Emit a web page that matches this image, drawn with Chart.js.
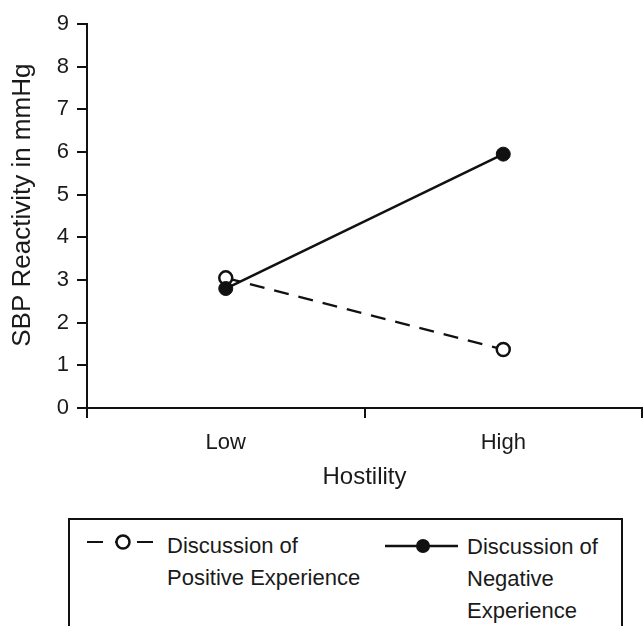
<!DOCTYPE html>
<html>
<head>
<meta charset="utf-8">
<script src="https://cdn.jsdelivr.net/npm/chart.js@4.4.1/dist/chart.umd.min.js"></script>
<style>
  html, body { margin:0; padding:0; background:#fff; }
  body { width:643px; height:626px; overflow:hidden; position:relative; font-family:'Liberation Sans', Arial, sans-serif; color:#1a1a1a; }
  #chart { position:absolute; left:0; top:0; }
  .legend-box { position:absolute; left:68px; top:518px; width:551px; height:140px; border:2px solid #111; box-sizing:content-box; }
  .legend-item { position:absolute; font-size:22px; line-height:32px; }
  .legend-item svg { position:absolute; overflow:visible; }
</style>
</head>
<body>
<canvas id="chart" width="651" height="510"></canvas>
<div class="legend-box" id="legend"></div>

<script>
// ---- data ----
const hostilityLevels = ['Low', 'High'];
const positiveValues = [3.05, 1.37];   // open circles, dashed
const negativeValues = [2.8, 5.95];    // filled circles, solid
const yMin = 0, yMax = 9, yStep = 1;

const positiveName = ['Discussion of', 'Positive Experience'];
const negativeName = ['Discussion of', 'Negative', 'Experience'];

const ink = '#111';
const fontFam = "'Liberation Sans', Arial, sans-serif";

new Chart(document.getElementById('chart'), {
  type: 'line',
  data: {
    labels: hostilityLevels,
    datasets: [
      {
        label: positiveName.join(' '),
        data: positiveValues,
        borderColor: ink, borderWidth: 2.2, borderDash: [15, 10],
        pointRadius: 6.5, pointBorderWidth: 2.5,
        pointBackgroundColor: '#fff', pointBorderColor: ink,
        order: 1
      },
      {
        label: negativeName.join(' '),
        data: negativeValues,
        borderColor: ink, borderWidth: 2.5,
        pointRadius: 7, pointBorderWidth: 1,
        pointBackgroundColor: ink, pointBorderColor: ink,
        order: 0
      }
    ]
  },
  options: {
    responsive: false,
    animation: false,
    devicePixelRatio: 1,
    layout: { padding: { top: 24, right: 0, left: 0, bottom: 0 } },
    plugins: { legend: { display: false }, tooltip: { enabled: false } },
    scales: {
      x: {
        offset: true,
        grid: { drawOnChartArea: false, drawTicks: true, tickLength: 10, color: ink, lineWidth: 2, offset: true },
        border: { display: true, color: ink, width: 2 },
        ticks: { color: '#1a1a1a', font: { family: fontFam, size: 22 }, padding: 12 },
        title: { display: true, text: 'Hostility', color: '#1a1a1a', font: { family: fontFam, size: 24 }, padding: { top: 0, bottom: 18 } },
        afterFit: s => { s.height = 102; }
      },
      y: {
        min: yMin, max: yMax,
        grid: { drawOnChartArea: false, drawTicks: true, tickLength: 10, color: ink, lineWidth: 2 },
        border: { display: true, color: ink, width: 2 },
        ticks: { stepSize: yStep, color: '#1a1a1a', font: { family: fontFam, size: 22 }, padding: 8 },
        // leading spaces nudge the rotated title up a little, as in the original
        title: { display: true, text: '   SBP Reactivity in mmHg', color: '#1a1a1a', font: { family: fontFam, size: 26 }, padding: { top: 7, bottom: 0 } },
        afterFit: s => { s.width = 87; }
      }
    }
  }
});

// ---- legend (coordinates relative to box inner edge at 70,520) ----
const legend = document.getElementById('legend');
function addItem(lines, left, top, svg) {
  const d = document.createElement('div');
  d.className = 'legend-item';
  d.style.left = left + 'px';
  d.style.top = top + 'px';
  d.innerHTML = lines.join('<br>');
  legend.appendChild(d);
  const s = document.createElementNS('http://www.w3.org/2000/svg', 'svg');
  s.setAttribute('width', '80'); s.setAttribute('height', '20');
  s.style.left = (svg.x - left) + 'px';
  s.style.top = (svg.y - top - 10) + 'px';
  s.innerHTML = svg.html;
  d.appendChild(s);
}
addItem(positiveName, 97, 10, {
  x: 17, y: 22,
  html: `<line x1="0" y1="10" x2="16" y2="10" stroke="${ink}" stroke-width="2"/>
         <line x1="28" y1="10" x2="32" y2="10" stroke="${ink}" stroke-width="2"/>
         <circle cx="36" cy="10" r="6.5" fill="#fff" stroke="${ink}" stroke-width="2.5"/>
         <line x1="50" y1="10" x2="66" y2="10" stroke="${ink}" stroke-width="2"/>`
});
addItem(negativeName, 397, 11, {
  x: 315, y: 26,
  html: `<line x1="0" y1="10" x2="73" y2="10" stroke="${ink}" stroke-width="2.5"/>
         <circle cx="38" cy="10" r="7" fill="${ink}"/>`
});
</script>
</body>
</html>
